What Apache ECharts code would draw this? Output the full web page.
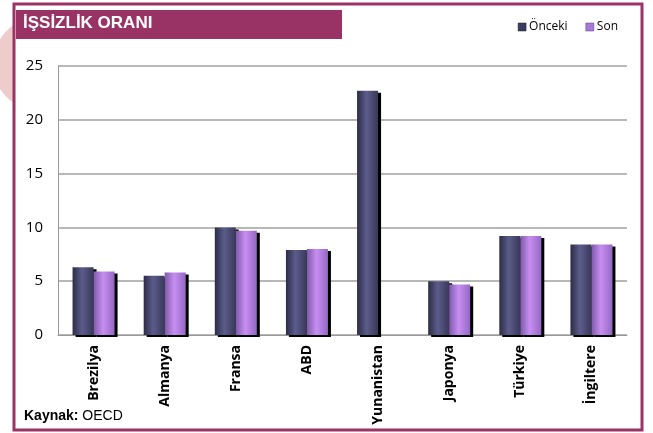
<!DOCTYPE html>
<html lang="tr" style="height:100%">
<head>
    <meta charset="UTF-8">
    <title>İşsizlik Oranı</title>
    <script src="https://cdn.jsdelivr.net/npm/echarts@6/dist/echarts.min.js"></script>
</head>
<body style="height:100%;margin:0">
<div id="main" style="width:653px;height:433px;"></div>
<script type="text/javascript">
    var ulkeler = ['Brezilya', 'Almanya', 'Fransa', 'ABD', 'Yunanistan', 'Japonya', 'Türkiye', 'İngiltere'];
    var onceki = [6.3, 5.5, 10.0, 7.9, 22.7, 5.0, 9.2, 8.4];
    var son = [5.9, 5.8, 9.7, 8.0, null, 4.7, 9.2, 8.4];
    var yTicks = [0, 5, 10, 15, 20, 25];

    var font = '"Open Sans", "Liberation Sans", sans-serif';

    function barFill(c1, c2, c3) {
        return new echarts.graphic.LinearGradient(0, 0, 1, 0, [
            {offset: 0, color: c1},
            {offset: 0.45, color: c2},
            {offset: 1, color: c3}
        ]);
    }

    var myChart = echarts.init(document.getElementById('main'));
    var option = {
        backgroundColor: '#fff',
        animation: false,
        graphic: [
            // pembe daire (sol kenar)
            {type: 'circle', z: -10, shape: {cx: 40, cy: 64, r: 47}, style: {fill: '#efcccc'}},
            // çerçeve
            {type: 'rect', z: -5, shape: {x: 14, y: 4, width: 628, height: 426},
                style: {fill: '#fff', stroke: '#9b3366', lineWidth: 3}},
            // başlık şeridi
            {type: 'rect', z: -4, shape: {x: 16, y: 10, width: 326, height: 29}, style: {fill: '#993366'}},
            {type: 'text', left: 23, top: 15, style: {text: 'İŞSİZLİK ORANI', fill: '#fff',
                font: 'bold 17px "Liberation Sans", Arial, sans-serif'}},
            {type: 'text', left: 24, top: 409, style: {
                text: '{b|Kaynak:} OECD',
                font: '14px "Liberation Sans", Arial, sans-serif', fill: '#000',
                rich: {b: {fontWeight: 'bold', fontSize: 14, fontFamily: '"Liberation Sans", Arial, sans-serif'}}
            }}
        ],
        legend: {
            right: 30,
            top: 16,
            icon: 'rect',
            itemWidth: 8,
            itemHeight: 8,
            itemGap: 18,
            textStyle: {fontSize: 12, fontFamily: font, color: '#000', padding: [0, 0, 0, -2]},
            data: [
                {name: 'Önceki', itemStyle: {color: '#3c3c60', borderColor: '#222', borderWidth: 0.5, shadowBlur: 0, shadowOffsetX: 0, shadowOffsetY: 0}},
                {name: 'Son', itemStyle: {color: '#a77ad8', borderColor: '#5a3a7a', borderWidth: 0.5, shadowBlur: 0, shadowOffsetX: 0, shadowOffsetY: 0}}
            ]
        },
        grid: {left: 58, right: 26, top: 66, bottom: 98},
        xAxis: {
            type: 'category',
            data: ulkeler,
            axisTick: {show: false},
            axisLine: {lineStyle: {color: '#999', width: 1}},
            axisLabel: {
                rotate: 90,
                fontSize: 14,
                fontWeight: 'bold',
                fontFamily: font,
                color: '#000',
                margin: 10
            }
        },
        yAxis: {
            type: 'value',
            min: 0,
            max: 25,
            interval: 5,
            axisLine: {show: true, lineStyle: {color: '#999'}},
            axisTick: {show: false},
            axisLabel: {
                fontSize: 15,
                fontFamily: font,
                color: '#000',
                margin: 15,
                formatter: function (v) { return yTicks.indexOf(v) >= 0 ? String(v) : ''; }
            },
            splitLine: {lineStyle: {color: '#a0a0a0', width: 1.5}}
        },
        series: [
            {
                name: 'Önceki',
                type: 'bar',
                data: onceki,
                barWidth: 21,
                barGap: '0%',
                itemStyle: {
                    color: barFill('#2c2c46', '#5c5c8c', '#383858'),
                    shadowColor: '#000',
                    shadowOffsetX: 3,
                    shadowOffsetY: 2,
                    shadowBlur: 0
                }
            },
            {
                name: 'Son',
                type: 'bar',
                data: son,
                barWidth: 21,
                itemStyle: {
                    color: barFill('#7d5aa8', '#c88ef2', '#9468c4'),
                    shadowColor: '#000',
                    shadowOffsetX: 3,
                    shadowOffsetY: 2,
                    shadowBlur: 0
                }
            }
        ]
    };
    myChart.setOption(option);
</script>
</body>
</html>
